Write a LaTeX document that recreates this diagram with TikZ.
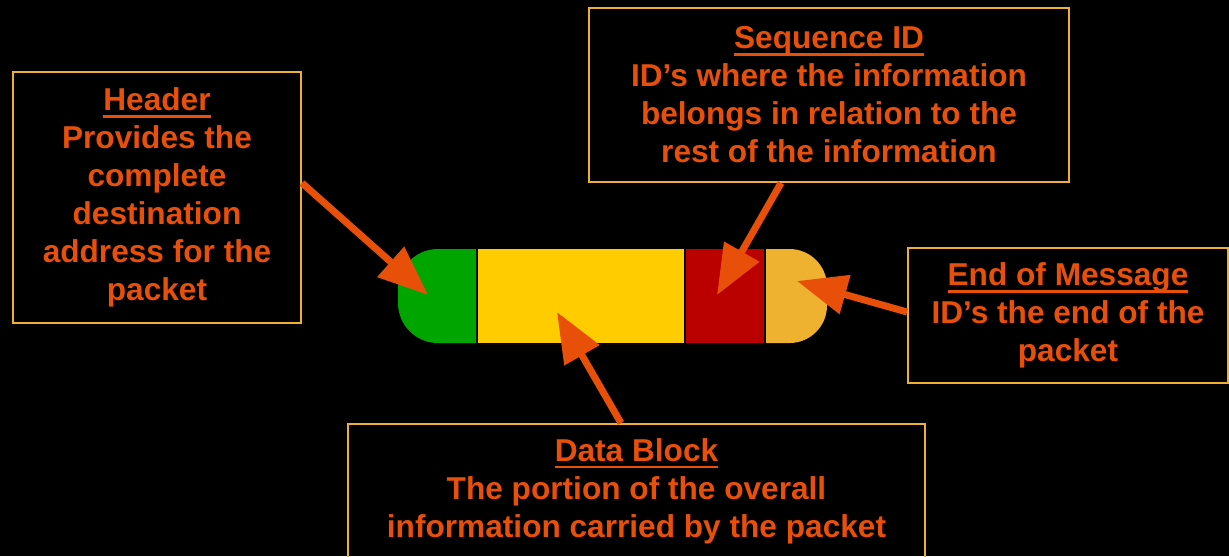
\documentclass[tikz,border=0pt]{standalone}
\usepackage{fontspec}
\setmainfont{Liberation Sans}
\usetikzlibrary{arrows.meta}
\definecolor{txtorange}{RGB}{232,80,10}
\definecolor{boxgold}{RGB}{238,176,46}
\definecolor{hdrgreen}{RGB}{0,165,0}
\definecolor{datayellow}{RGB}{255,204,0}
\definecolor{seqred}{RGB}{187,0,0}
\definecolor{endgold}{RGB}{238,178,48}
\newcommand{\boxtitle}[1]{\leavevmode\setbox0=\hbox{#1}\rlap{\rule[-0.22em]{\wd0}{0.08em}}\box0}

\begin{document}
\begin{tikzpicture}[x=0.02cm,y=-0.02cm,
  infobox/.style={draw=boxgold, line width=0.04cm, text=txtorange, align=center, inner sep=0pt,
    font=\bfseries\fontsize{18pt}{21.6pt}\selectfont},
  segment/.style={inner sep=0pt, minimum height=1.88cm},
  pointer/.style={draw=txtorange, line width=0.14cm, -{Triangle[length=1cm,width=0.78cm]}}]
\fill[black] (0,0) rectangle (1229,556);
\useasboundingbox (0,0) rectangle (1229,556);

% text boxes
\node[infobox, minimum width=5.76cm, minimum height=5.02cm] (hdrbox) at (157,197.5)
  {\boxtitle{Header}\\Provides the\\complete\\destination\\address for the\\packet};
\node[infobox, minimum width=9.6cm, minimum height=3.48cm] (seqbox) at (829,95)
  {\boxtitle{Sequence ID}\\ID’s where the information\\belongs in relation to the\\rest of the information};
\node[infobox, minimum width=6.4cm, minimum height=2.7cm] (endbox) at (1068,315.5)
  {\boxtitle{End of Message}\\ID’s the end of the\\packet};
\node[infobox, minimum width=11.54cm, minimum height=2.68cm] (databox) at (636.5,491)
  {\boxtitle{Data Block}\\The portion of the overall\\information carried by the packet};

% the packet
\fill[hdrgreen] (476,249) [rounded corners=0.8cm] -- (398,249) -- (398,343) [sharp corners] -- (476,343) -- cycle;
\node[segment, fill=datayellow, minimum width=4.12cm] (data) at (581,296) {};
\node[segment, fill=seqred, minimum width=1.56cm] (seq) at (725,296) {};
\fill[endgold] (766,249) [rounded corners=0.75cm] -- (827,249) -- (827,343) [sharp corners] -- (766,343) -- cycle;

\coordinate (hdrtip) at (428,295);
\coordinate (seqtip) at (717,295);
\coordinate (endtip) at (797,281);
\coordinate (datatip) at (557,312);

% pointers
\draw[pointer] ([yshift=0.29cm]hdrbox.east) -- (hdrtip);
\draw[pointer] ([xshift=-0.96cm]seqbox.south) -- (seqtip);
\draw[pointer] ([yshift=0.07cm]endbox.west) -- (endtip);
\draw[pointer] ([xshift=-0.31cm]databox.north) -- (datatip);
\end{tikzpicture}
\end{document}
